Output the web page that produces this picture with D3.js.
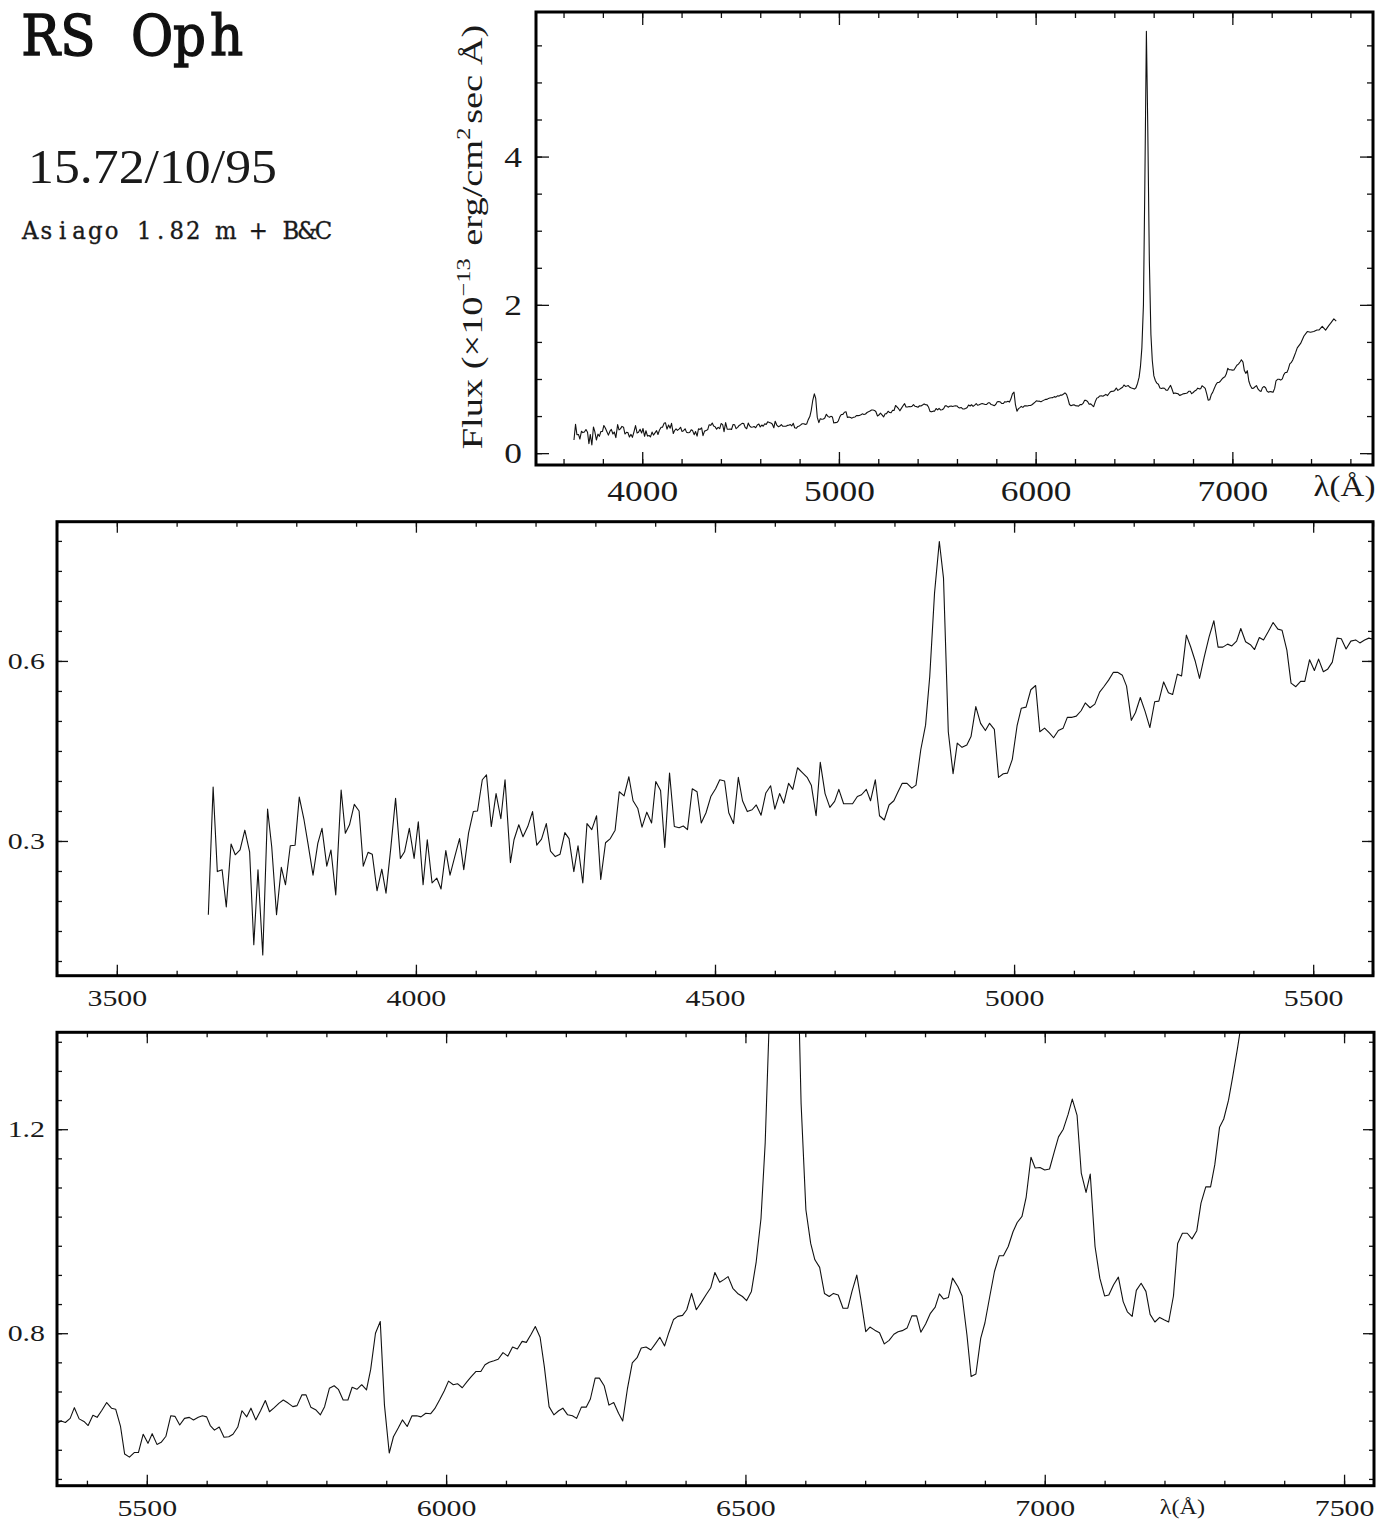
<!DOCTYPE html>
<html>
<head>
<meta charset="utf-8">
<script src="https://cdn.jsdelivr.net/npm/d3@7"></script>
<style>
  body { margin: 0; background: #fff; }
  svg text { font-family: "Liberation Serif", "DejaVu Serif", serif; fill: #1a1a1a; }
</style>
</head>
<body>
<div id="chart"></div>
<script>
// RS Oph spectrum: wavelength in Å, flux in 1e-13 erg/cm2/s/Å
const wavelength = [
  3653, 3661, 3668, 3676, 3683, 3691, 3698, 3706, 3714, 3722,
  3729, 3736, 3744, 3752, 3759, 3767, 3775, 3782, 3790, 3798,
  3805, 3813, 3820, 3828, 3836, 3843, 3851, 3858, 3866, 3875,
  3882, 3889, 3897, 3905, 3912, 3920, 3927, 3935, 3943, 3950,
  3958, 3966, 3974, 3981, 3989, 3997, 4004, 4012, 4019, 4027,
  4035, 4042, 4050, 4057, 4065, 4073, 4080, 4088, 4096, 4103,
  4111, 4118, 4126, 4134, 4142, 4149, 4158, 4164, 4172, 4179,
  4187, 4195, 4202, 4210, 4218, 4225, 4233, 4241, 4249, 4256,
  4264, 4271, 4279, 4286, 4294, 4302, 4309, 4317, 4325, 4333,
  4340, 4348, 4356, 4363, 4371, 4378, 4386, 4394, 4401, 4409,
  4416, 4424, 4432, 4440, 4447, 4454, 4462, 4470, 4477, 4485,
  4493, 4501, 4508, 4516, 4523, 4531, 4539, 4546, 4554, 4562,
  4569, 4577, 4585, 4593, 4600, 4608, 4615, 4623, 4630, 4638,
  4646, 4654, 4661, 4669, 4676, 4684, 4692, 4700, 4707, 4715,
  4722, 4730, 4738, 4745, 4753, 4760, 4768, 4775, 4783, 4791,
  4799, 4806, 4813, 4821, 4829, 4836, 4844, 4852, 4859, 4867,
  4875, 4882, 4890, 4898, 4905, 4913, 4921, 4928, 4936, 4944,
  4952, 4959, 4967, 4974, 4982, 4989, 4997, 5005, 5012, 5020,
  5028, 5036, 5043, 5051, 5059, 5066, 5074, 5082, 5089, 5097,
  5104, 5112, 5119, 5127, 5135, 5143, 5150, 5158, 5166, 5173,
  5181, 5188, 5196, 5203, 5211, 5219, 5227, 5235, 5242, 5250,
  5258, 5265, 5273, 5280, 5288, 5295, 5303, 5310, 5318, 5326,
  5334, 5341, 5349, 5357, 5364, 5372, 5379, 5387, 5395, 5402,
  5410, 5417, 5425, 5433, 5441, 5448, 5456, 5463, 5471, 5479,
  5486, 5494, 5502, 5509, 5517, 5524, 5532, 5540, 5547, 5555,
  5563, 5571, 5578, 5586, 5593, 5600, 5606, 5613, 5621, 5629,
  5637, 5644, 5652, 5659, 5667, 5674, 5682, 5690, 5698, 5705,
  5713, 5721, 5728, 5736, 5744, 5751, 5759, 5766, 5774, 5782,
  5790, 5797, 5805, 5813, 5820, 5828, 5836, 5843, 5851, 5859,
  5867, 5874, 5882, 5890, 5897, 5905, 5912, 5920, 5927, 5935,
  5943, 5951, 5958, 5966, 5974, 5981, 5989, 5997, 6004, 6012,
  6019, 6027, 6035, 6042, 6050, 6058, 6065, 6072, 6080, 6087,
  6095, 6103, 6111, 6119, 6127, 6134, 6142, 6149, 6157, 6164,
  6172, 6180, 6188, 6195, 6203, 6211, 6218, 6226, 6234, 6241,
  6249, 6256, 6264, 6272, 6280, 6288, 6295, 6303, 6311, 6319,
  6326, 6334, 6342, 6350, 6357, 6365, 6372, 6380, 6387, 6395,
  6402, 6410, 6418, 6426, 6434, 6442, 6449, 6457, 6464, 6471,
  6479, 6487, 6495, 6502, 6510, 6518, 6526, 6533, 6540, 6548,
  6555, 6563, 6570, 6578, 6586, 6593, 6601, 6609, 6616, 6624,
  6632, 6640, 6647, 6655, 6663, 6671, 6678, 6686, 6693, 6701,
  6708, 6716, 6724, 6732, 6740, 6748, 6755, 6762, 6770, 6778,
  6786, 6793, 6801, 6809, 6817, 6824, 6831, 6839, 6846, 6855,
  6862, 6870, 6877, 6885, 6893, 6900, 6908, 6916, 6924, 6931,
  6939, 6947, 6954, 6962, 6969, 6977, 6984, 6992, 7000, 7008,
  7016, 7023, 7031, 7039, 7046, 7054, 7061, 7069, 7076, 7084,
  7092, 7100, 7107, 7115, 7123, 7131, 7138, 7146, 7153, 7161,
  7169, 7176, 7184, 7192, 7200, 7207, 7215, 7222, 7230, 7238,
  7246, 7254, 7261, 7269, 7277, 7284, 7292, 7299, 7307, 7314,
  7322, 7330, 7347, 7364, 7381, 7397, 7414, 7430, 7440, 7457,
  7474, 7490, 7499, 7516, 7528
];

const flux = [
  0.177, 0.390, 0.249, 0.252, 0.190, 0.295, 0.277, 0.285, 0.318, 0.282,
  0.127, 0.252, 0.110, 0.353, 0.290, 0.177, 0.256, 0.227, 0.292, 0.293,
  0.373, 0.335, 0.293, 0.243, 0.296, 0.321, 0.258, 0.285, 0.210, 0.385,
  0.313, 0.327, 0.361, 0.350, 0.258, 0.281, 0.278, 0.217, 0.253, 0.213,
  0.288, 0.371, 0.271, 0.282, 0.321, 0.271, 0.332, 0.227, 0.302, 0.230,
  0.238, 0.220, 0.284, 0.243, 0.274, 0.304, 0.252, 0.313, 0.349, 0.350,
  0.402, 0.410, 0.324, 0.379, 0.337, 0.402, 0.264, 0.302, 0.327, 0.307,
  0.324, 0.349, 0.293, 0.303, 0.329, 0.283, 0.274, 0.278, 0.314, 0.304,
  0.249, 0.292, 0.230, 0.329, 0.319, 0.342, 0.236, 0.297, 0.304, 0.318,
  0.382, 0.375, 0.407, 0.367, 0.354, 0.323, 0.348, 0.330, 0.399, 0.384,
  0.289, 0.413, 0.324, 0.322, 0.325, 0.319, 0.387, 0.382, 0.330, 0.347,
  0.374, 0.387, 0.402, 0.400, 0.347, 0.329, 0.406, 0.367, 0.349, 0.352,
  0.360, 0.343, 0.380, 0.392, 0.353, 0.379, 0.363, 0.396, 0.386, 0.422,
  0.414, 0.406, 0.393, 0.342, 0.431, 0.379, 0.356, 0.366, 0.386, 0.362,
  0.362, 0.362, 0.374, 0.377, 0.386, 0.367, 0.402, 0.342, 0.335, 0.360,
  0.367, 0.382, 0.396, 0.396, 0.388, 0.393, 0.452, 0.493, 0.574, 0.713,
  0.799, 0.738, 0.482, 0.412, 0.463, 0.456, 0.460, 0.474, 0.524, 0.496,
  0.484, 0.496, 0.486, 0.406, 0.412, 0.413, 0.436, 0.492, 0.521, 0.523,
  0.552, 0.559, 0.482, 0.488, 0.480, 0.472, 0.484, 0.488, 0.506, 0.506,
  0.508, 0.517, 0.530, 0.522, 0.528, 0.548, 0.557, 0.568, 0.581, 0.581,
  0.576, 0.558, 0.501, 0.514, 0.539, 0.516, 0.489, 0.532, 0.533, 0.565,
  0.547, 0.544, 0.578, 0.575, 0.643, 0.624, 0.599, 0.571, 0.607, 0.640,
  0.667, 0.623, 0.623, 0.628, 0.625, 0.633, 0.654, 0.632, 0.627, 0.619,
  0.639, 0.635, 0.649, 0.664, 0.653, 0.651, 0.618, 0.563, 0.557, 0.566,
  0.566, 0.602, 0.584, 0.603, 0.582, 0.586, 0.598, 0.638, 0.637, 0.620,
  0.633, 0.635, 0.630, 0.635, 0.638, 0.636, 0.619, 0.610, 0.616, 0.596,
  0.597, 0.602, 0.616, 0.648, 0.636, 0.653, 0.630, 0.648, 0.668, 0.646,
  0.654, 0.663, 0.669, 0.663, 0.656, 0.658, 0.679, 0.679, 0.655, 0.650,
  0.640, 0.656, 0.692, 0.697, 0.690, 0.669, 0.669, 0.694, 0.690, 0.699,
  0.689, 0.729, 0.800, 0.823, 0.659, 0.565, 0.597, 0.614, 0.630, 0.617,
  0.638, 0.638, 0.636, 0.643, 0.642, 0.652, 0.669, 0.687, 0.706, 0.699,
  0.701, 0.693, 0.705, 0.715, 0.725, 0.725, 0.738, 0.743, 0.746, 0.749,
  0.762, 0.755, 0.773, 0.769, 0.784, 0.782, 0.798, 0.813, 0.792, 0.735,
  0.656, 0.640, 0.648, 0.653, 0.640, 0.638, 0.633, 0.655, 0.655, 0.671,
  0.712, 0.712, 0.697, 0.659, 0.664, 0.643, 0.628, 0.692, 0.742, 0.752,
  0.771, 0.773, 0.767, 0.780, 0.792, 0.775, 0.801, 0.827, 0.833, 0.835,
  0.846, 0.878, 0.846, 0.860, 0.875, 0.889, 0.919, 0.900, 0.905, 0.911,
  0.888, 0.878, 0.872, 0.864, 0.882, 0.940, 1.025, 1.173, 1.42, 2.00,
  3.60, 5.69, 4.40, 2.60, 1.60, 1.25, 1.042, 0.976, 0.944, 0.929,
  0.878, 0.872, 0.878, 0.875, 0.849, 0.849, 0.882, 0.914, 0.865, 0.803,
  0.812, 0.806, 0.801, 0.779, 0.786, 0.798, 0.803, 0.805, 0.810, 0.834,
  0.834, 0.802, 0.818, 0.839, 0.851, 0.877, 0.867, 0.870, 0.908, 0.891,
  0.873, 0.797, 0.715, 0.720, 0.790, 0.820, 0.871, 0.921, 0.952, 0.952,
  0.970, 0.999, 1.017, 1.029, 1.067, 1.145, 1.124, 1.125, 1.120, 1.122,
  1.156, 1.185, 1.200, 1.229, 1.259, 1.227, 1.114, 1.076, 1.112, 0.970,
  0.908, 0.873, 0.875, 0.895, 0.910, 0.862, 0.842, 0.833, 0.884, 0.898,
  0.882, 0.837, 0.822, 0.831, 0.826, 0.822, 0.873, 0.976, 0.996, 0.996,
  0.985, 1.001, 1.055, 1.087, 1.087, 1.130, 1.204, 1.220, 1.257, 1.303,
  1.359, 1.42, 1.48, 1.58, 1.64, 1.63, 1.64, 1.66, 1.66, 1.71,
  1.66, 1.72, 1.75, 1.81, 1.78
];

// labelled ticks of each panel
const fullXTicks = [4000, 5000, 6000, 7000];
const fullYTicks = [0, 2, 4];
const blueXTicks = [3500, 4000, 4500, 5000, 5500];
const blueYTicks = [0.3, 0.6];
const redXTicks = [5500, 6000, 6500, 7000, 7500];
const redYTicks = [0.8, 1.2];

const width = 1393;
const height = 1524;

const svg = d3.select("#chart").append("svg")
  .attr("width", width)
  .attr("height", height);

const spectrum = d3.zip(wavelength, flux);

const panels = [
  {
    id: "full", xDomain: [3460, 7715], yDomain: [-0.16, 5.95],
    left: 536, top: 12, right: 1373, bottom: 465,
    xMajor: fullXTicks, xMinor: d3.range(3600, 7700, 200),
    yMajor: fullYTicks, yMinor: d3.range(0, 6, 0.5),
    xFormat: d3.format("d"), yFormat: d3.format("d"),
    majorLen: 13, minorLen: 6, fontSize: 30, stretch: 1.18, xPad: 15, yPad: 14,
    lambda: { at: 7570, y: 496, size: 30, stretch: 1.1 }
  },
  {
    id: "blue", xDomain: [3400, 5600], yDomain: [0.0755, 0.832],
    left: 57, top: 521.7, right: 1373, bottom: 975.7,
    xMajor: blueXTicks, xMinor: d3.range(3400, 5601, 100),
    yMajor: blueYTicks, yMinor: d3.range(0.1, 0.81, 0.05),
    xFormat: d3.format("d"), yFormat: d3.format(".1f"),
    majorLen: 11, minorLen: 5, fontSize: 23, stretch: 1.3, xPad: 14, yPad: 12
  },
  {
    id: "red", xDomain: [5350, 7550], yDomain: [0.501, 1.39],
    left: 57, top: 1032.3, right: 1374, bottom: 1485.7,
    xMajor: redXTicks, xMinor: d3.range(5400, 7551, 100),
    // the original minor ticks split 0.8..1.2 into seven steps
    yMajor: redYTicks, yMinor: d3.range(0.8 - 5 * 0.4 / 7, 1.39, 0.4 / 7),
    xFormat: d3.format("d"), yFormat: d3.format(".1f"),
    majorLen: 11, minorLen: 5, fontSize: 23, stretch: 1.3, xPad: 14, yPad: 12,
    lambda: { at: 7230, y: 1514, size: 22, stretch: 1.1 }
  }
];

function styleAxis(g, p) {
  g.attr("font-size", null).attr("font-family", null);
  g.select(".domain").remove();
  g.selectAll(".tick line").attr("stroke", "#111").attr("stroke-width", 1.3);
  g.selectAll(".tick text")
    .style("font-size", p.fontSize + "px")
    .attr("transform", `scale(${p.stretch},1)`);
}

function drawPanel(p) {
  const x = d3.scaleLinear().domain(p.xDomain).range([p.left, p.right]);
  const y = d3.scaleLinear().domain(p.yDomain).range([p.bottom, p.top]);
  const g = svg.append("g").attr("class", "panel-" + p.id);

  g.append("clipPath").attr("id", "clip-" + p.id)
    .append("rect")
    .attr("x", p.left).attr("y", p.top)
    .attr("width", p.right - p.left).attr("height", p.bottom - p.top);

  // spectrum
  g.append("path")
    .datum(spectrum)
    .attr("clip-path", `url(#clip-${p.id})`)
    .attr("fill", "none")
    .attr("stroke", "#111")
    .attr("stroke-width", 1.1)
    .attr("stroke-linejoin", "round")
    .attr("d", d3.line().x(d => x(d[0])).y(d => y(d[1])));

  // ticks point inwards on all four sides
  const sides = [
    { axis: d3.axisBottom, scale: x, t: `translate(0,${p.bottom})`, major: p.xMajor, minor: p.xMinor, fmt: p.xFormat, pad: p.xPad },
    { axis: d3.axisTop, scale: x, t: `translate(0,${p.top})`, major: p.xMajor, minor: p.xMinor, fmt: null },
    { axis: d3.axisLeft, scale: y, t: `translate(${p.left},0)`, major: p.yMajor, minor: p.yMinor, fmt: p.yFormat, pad: p.yPad / p.stretch },
    { axis: d3.axisRight, scale: y, t: `translate(${p.right},0)`, major: p.yMajor, minor: p.yMinor, fmt: null }
  ];

  sides.forEach(s => {
    g.append("g")
      .attr("transform", s.t)
      .call(s.axis(s.scale).tickValues(s.minor).tickSize(-p.minorLen).tickFormat(""))
      .call(a => styleAxis(a, p));
    g.append("g")
      .attr("transform", s.t)
      .call(s.axis(s.scale).tickValues(s.major).tickSize(-p.majorLen)
        .tickPadding(s.pad || 0).tickFormat(s.fmt || ""))
      .call(a => styleAxis(a, p));
  });

  // frame
  g.append("rect")
    .attr("x", p.left).attr("y", p.top)
    .attr("width", p.right - p.left).attr("height", p.bottom - p.top)
    .attr("fill", "none")
    .attr("stroke", "#000")
    .attr("stroke-width", 3);

  if (p.lambda) {
    g.append("text")
      .attr("text-anchor", "middle")
      .attr("transform", `translate(${x(p.lambda.at)},${p.lambda.y}) scale(${p.lambda.stretch},1)`)
      .style("font-size", p.lambda.size + "px")
      .text("λ(Å)");
  }
}

panels.forEach(drawPanel);

// stretch a text horizontally so it spans the given width
function fitText(sel, x, y, w, rotate) {
  const natural = sel.node().getComputedTextLength();
  const k = w / natural;
  sel.attr("transform", `translate(${x},${y})${rotate ? " rotate(-90)" : ""} scale(${k},1)`);
}

// typewriter look: one glyph per fixed-width cell
function monoText(str, x0, y, cell, size, squeeze) {
  const chars = Array.from(str);
  const xs = chars.map((c, i) => ((i + 0.5) * cell) / squeeze);
  return svg.append("text")
    .attr("transform", `translate(${x0},${y}) scale(${squeeze},1)`)
    .attr("x", xs.join(" "))
    .attr("text-anchor", "middle")
    .style("font-family", "'DejaVu Serif', serif")
    .style("font-size", size + "px")
    .text(str);
}

// y-axis title of the full spectrum
const yTitle = svg.append("text")
  .attr("text-anchor", "middle")
  .style("font-size", "30px");
yTitle.append("tspan").text("Flux (×10");
yTitle.append("tspan").attr("dy", -12).style("font-size", "19px").text("−13");
yTitle.append("tspan").attr("dy", 12).attr("dx", 10).text("erg/cm");
yTitle.append("tspan").attr("dy", -12).style("font-size", "19px").text("2");
yTitle.append("tspan").attr("dy", 12).attr("dx", 3).text("sec Å)");
fitText(yTitle, 482, 237, 408, true);

// object, date and instrument
monoText("RS Oph", 22, 55, 37.2, 56, 0.92)
  .style("fill", "#111")
  .attr("stroke", "#111")
  .attr("stroke-width", 1.4);

const date = svg.append("text")
  .style("font-size", "48px")
  .attr("fill", "#333")
  .text("15.72/10/95");
fitText(date, 28, 183, 249);

monoText("Asiago 1.82 m + B&C", 22, 239, 16.3, 24, 0.95)
  .style("fill", "#1a1a1a")
  .attr("stroke", "#1a1a1a")
  .attr("stroke-width", 0.35);
</script>
</body>
</html>
